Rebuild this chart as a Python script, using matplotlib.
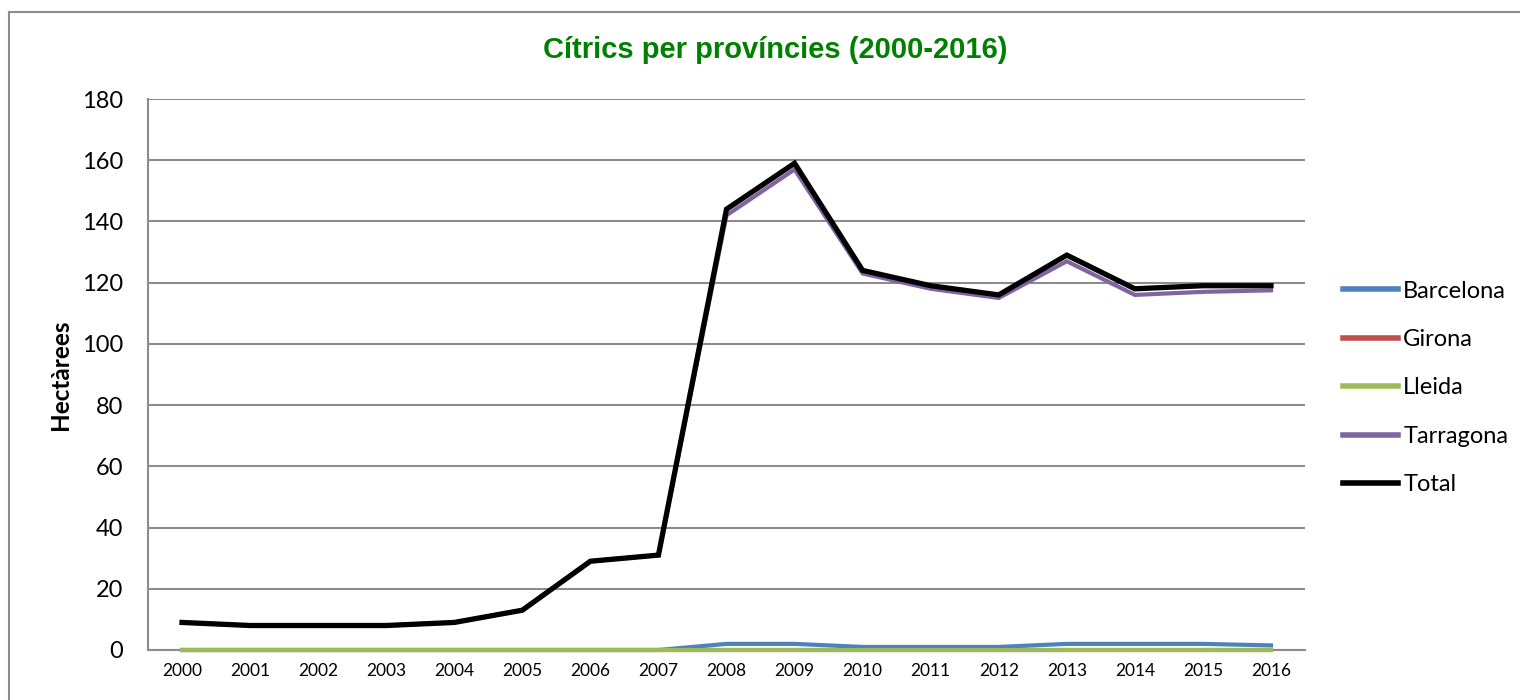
import matplotlib
matplotlib.use('Agg')
import matplotlib.pyplot as plt
from matplotlib.lines import Line2D

# Dades: hectàrees de cítrics per província
years = [str(y) for y in range(2000, 2017)]
barcelona = [0, 0, 0, 0, 0, 0, 0, 0, 2, 2, 1, 1, 1, 2, 2, 2, 1.5]
girona = [0] * 17
lleida = [0] * 17
tarragona = [9, 8, 8, 8, 9, 13, 29, 31, 142, 157, 123, 118, 115, 127, 116, 117, 117.5]
total = [9, 8, 8, 8, 9, 13, 29, 31, 144, 159, 124, 119, 116, 129, 118, 119, 119]

series = [
    ('Barcelona', barcelona, '#4F81BD', 3),
    ('Girona', girona, '#C0504D', 3),
    ('Lleida', lleida, '#9BBB59', 3),
    ('Tarragona', tarragona, '#8064A2', 3),
    ('Total', total, 'black', 3.8),
]

fig = plt.figure(figsize=(15.2, 7), dpi=100)
ax = fig.add_axes([148 / 1520, 50 / 700, (1305 - 148) / 1520, (650 - 99) / 700])

x = list(range(len(years)))
for name, vals, col, lw in series:
    ax.plot(x, vals, color=col, lw=lw, label=name, clip_on=False,
            solid_joinstyle='miter', zorder=3)

ax.set_xlim(-0.5, len(years) - 0.5)
ax.set_ylim(0, 180)
ax.set_yticks(range(0, 181, 20))
ax.set_xticks(x)
ax.set_xticklabels(years, fontsize=12.5, family='Lato')
for lab in ax.get_yticklabels():
    lab.set_fontsize(17)
    lab.set_family('Lato')
ax.tick_params(length=0)
ax.tick_params(axis='y', pad=18)
ax.tick_params(axis='x', pad=9)
ax.grid(axis='y', color='#8c8c8c', lw=1.5, zorder=1)
for s in ['top', 'right']:
    ax.spines[s].set_visible(False)
for s in ['left', 'bottom']:
    ax.spines[s].set_color('#8c8c8c')
    ax.spines[s].set_linewidth(1.5)

ax.set_ylabel('Hectàrees', fontsize=17.5, fontweight='bold', family='Lato', labelpad=7)
fig.text(775 / 1520, 1 - 50 / 700, 'Cítrics per províncies (2000-2016)',
         ha='center', va='center', fontsize=21, fontweight='bold',
         family='Liberation Sans', color='#008000')

leg = ax.legend(loc='center left', bbox_to_anchor=(1343 / 1520, 1 - 388 / 700),
                bbox_transform=fig.transFigure, frameon=False,
                prop={'family': 'Lato', 'size': 17}, handlelength=2.33,
                handletextpad=0.22, labelspacing=1.16, borderpad=0, borderaxespad=0)
for h in leg.get_lines():
    h.set_linewidth(4)

# marc exterior (només dalt i esquerra visibles)
fig.add_artist(Line2D([9 / 1520, 1], [1 - 12 / 700, 1 - 12 / 700],
                      color='#8c8c8c', lw=1.5, transform=fig.transFigure))
fig.add_artist(Line2D([9 / 1520, 9 / 1520], [0, 1 - 12 / 700],
                      color='#8c8c8c', lw=1.5, transform=fig.transFigure))

fig.savefig('out.png', dpi=100)
